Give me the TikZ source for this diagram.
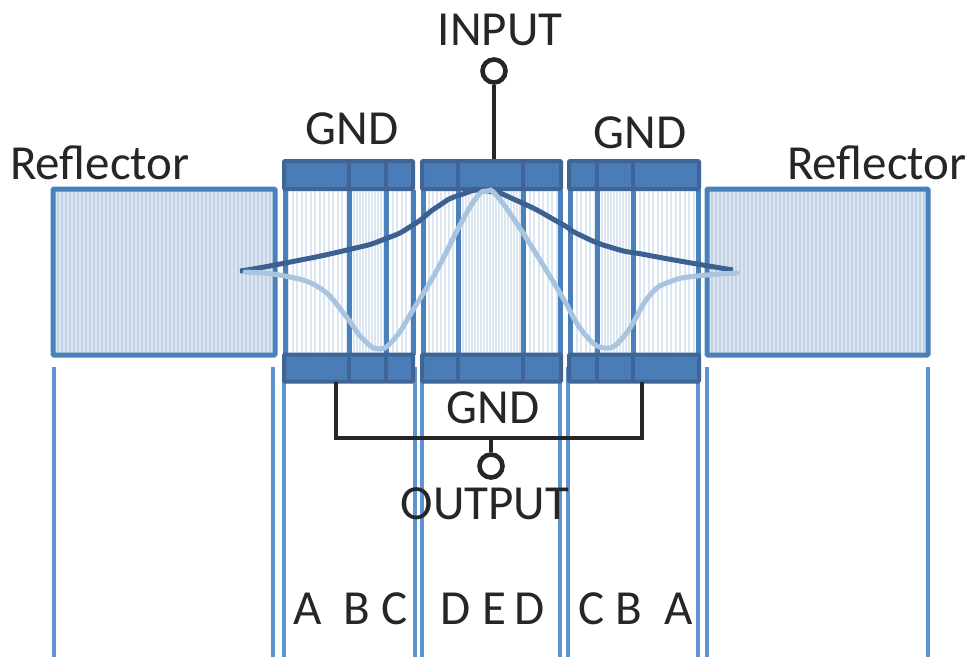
\documentclass[tikz,border=0pt]{standalone}
\usepackage{fontspec}
\setmainfont{Carlito}
\usepackage{xcolor}
\usetikzlibrary{calc}
\definecolor{padblue}{HTML}{4A7DB5}
\definecolor{paddark}{HTML}{3F6596}
\definecolor{wallblue}{HTML}{4A80BC}
\definecolor{guideblue}{HTML}{5F93CF}
\definecolor{reflfill}{HTML}{C2D3E5}
\definecolor{fingerfill}{HTML}{DCE6F1}
\definecolor{curvedark}{HTML}{3C6090}
\definecolor{curvelight}{HTML}{A9C4DF}
\newcommand{\fingers}[5]{\fill[#4] (#1,190) rectangle (#2,355);
  \foreach \x in {#1,#3,...,#2} \draw[white,line width=#5pt] (\x,190) -- (\x,355);}
\begin{document}
\begin{tikzpicture}[x=1pt,y=-1pt,
  lbl/.style={font=\fontsize{49}{49}\selectfont,text=black!85,inner sep=0pt},
  refl/.style={draw=wallblue,line width=5pt,inner sep=0pt,minimum height=166pt,rounded corners=1pt},
  pad/.style={draw=paddark,fill=padblue,line width=4pt,inner sep=0pt,rounded corners=1pt},
  wall/.style={wallblue,line width=5pt},
  guide/.style={guideblue,line width=3.2pt},
  wire/.style={black!85,line width=3.6pt},
  port/.style={circle,draw=black!85,fill=white,line width=4.6pt,inner sep=0pt,minimum size=23pt}]
\useasboundingbox (0,0) rectangle (970,657);
% guide lines
\foreach \x in {54,273,284,415,422,560,568,698,707,928} \draw[guide] (\x,367) -- (\x,657);
% finger areas
\fingers{286}{348}{290.5}{fingerfill}{2.6}
\fingers{349}{386}{352}{fingerfill}{.9}
\fingers{386}{413}{390.5}{fingerfill}{2.6}
\fingers{423}{458}{427}{fingerfill}{2.6}
\fingers{458}{523}{461}{fingerfill}{.9}
\fingers{523}{560}{527.5}{fingerfill}{2.6}
\fingers{570}{597}{574.5}{fingerfill}{2.6}
\fingers{597}{633}{600}{fingerfill}{.9}
\fingers{633}{697}{637.5}{fingerfill}{2.6}
% reflectors
\fill[reflfill] (53,189) rectangle (275,355);
\fill[reflfill] (707,189) rectangle (928,355);
\foreach \x in {56,60,...,274} \draw[white,opacity=.45,line width=1.4pt] (\x,189) -- (\x,355);
\foreach \x in {710,714,...,927} \draw[white,opacity=.45,line width=1.4pt] (\x,189) -- (\x,355);
\node[refl,minimum width=222pt] (reflL) at (164,272) {};
\node[refl,minimum width=221pt] (reflR) at (817.5,272) {};
% block walls and dividers
\foreach \x in {285,413,423,560,570,698,349,386,458,523,597,633} \draw[wall] (\x,190) -- (\x,355);
\foreach \xa/\xb/\n in {284/413/l,422/561/m,569/699/r}{
  \node[pad,minimum width=\xb pt-\xa pt,minimum height=28pt] (top\n) at ({(\xa+\xb)/2},175) {};
  \node[pad,minimum width=\xb pt-\xa pt,minimum height=27pt] (bot\n) at ({(\xa+\xb)/2},368) {};
}
\foreach \x in {349,386,458,523,597,633}{
  \draw[paddark,line width=4.4pt] (\x,161) -- (\x,189);
  \draw[paddark,line width=4.4pt] (\x,355) -- (\x,381);
}
% mode curves
\draw[curvedark,line width=5pt] plot[smooth,tension=1] coordinates {(240,271) (280,264) (347,250) (385,239) (413,225) (437,207) (460,195) (487,191) (520,202) (560,223) (580,235) (613,248) (647,255) (697,264) (733,270)};
\draw[curvelight,line width=5pt,line cap=round] plot[smooth,tension=.75] coordinates {(245,272) (285,276) (320,288) (345,315) (362,338) (379,349) (395,338) (413,310) (437,270) (460,225) (477,197) (487,191) (497,196) (523,233) (560,293) (583,332) (605,348) (625,335) (650,295) (672,281) (697,276) (737,273)};
% ports and wires
\node[port] (inport) at (494,71) {};
\node[port] (outport) at (491,466) {};
\draw[wire] (inport) -- (inport |- topm.north);
\coordinate (gndl) at (336,382);
\coordinate (gndr) at (642,382);
\draw[wire] (gndl) |- (336,438) -| (gndr);
\draw[wire] (outport) -- (outport |- 0,438);
\node[lbl] (input) at (500,30) {INPUT};
\node[lbl] (output) at (485,504) {OUTPUT};
\node[lbl] (gnda) at (352,129) {GND};
\node[lbl] (gndb) at (640,133) {GND};
\node[lbl] (gndc) at (493,408) {GND};
\node[lbl] (refa) at (100,163) {Reflector};
\node[lbl] (refb) at (877,163) {Reflector};
% section letters
\foreach \x/\t in {308/A,357/B,395/C,456/D,494/E,530/D,592/C,629/B,679/A}
  \node[lbl] (sec\x) at (\x,609) {\t};
\end{tikzpicture}
\end{document}
